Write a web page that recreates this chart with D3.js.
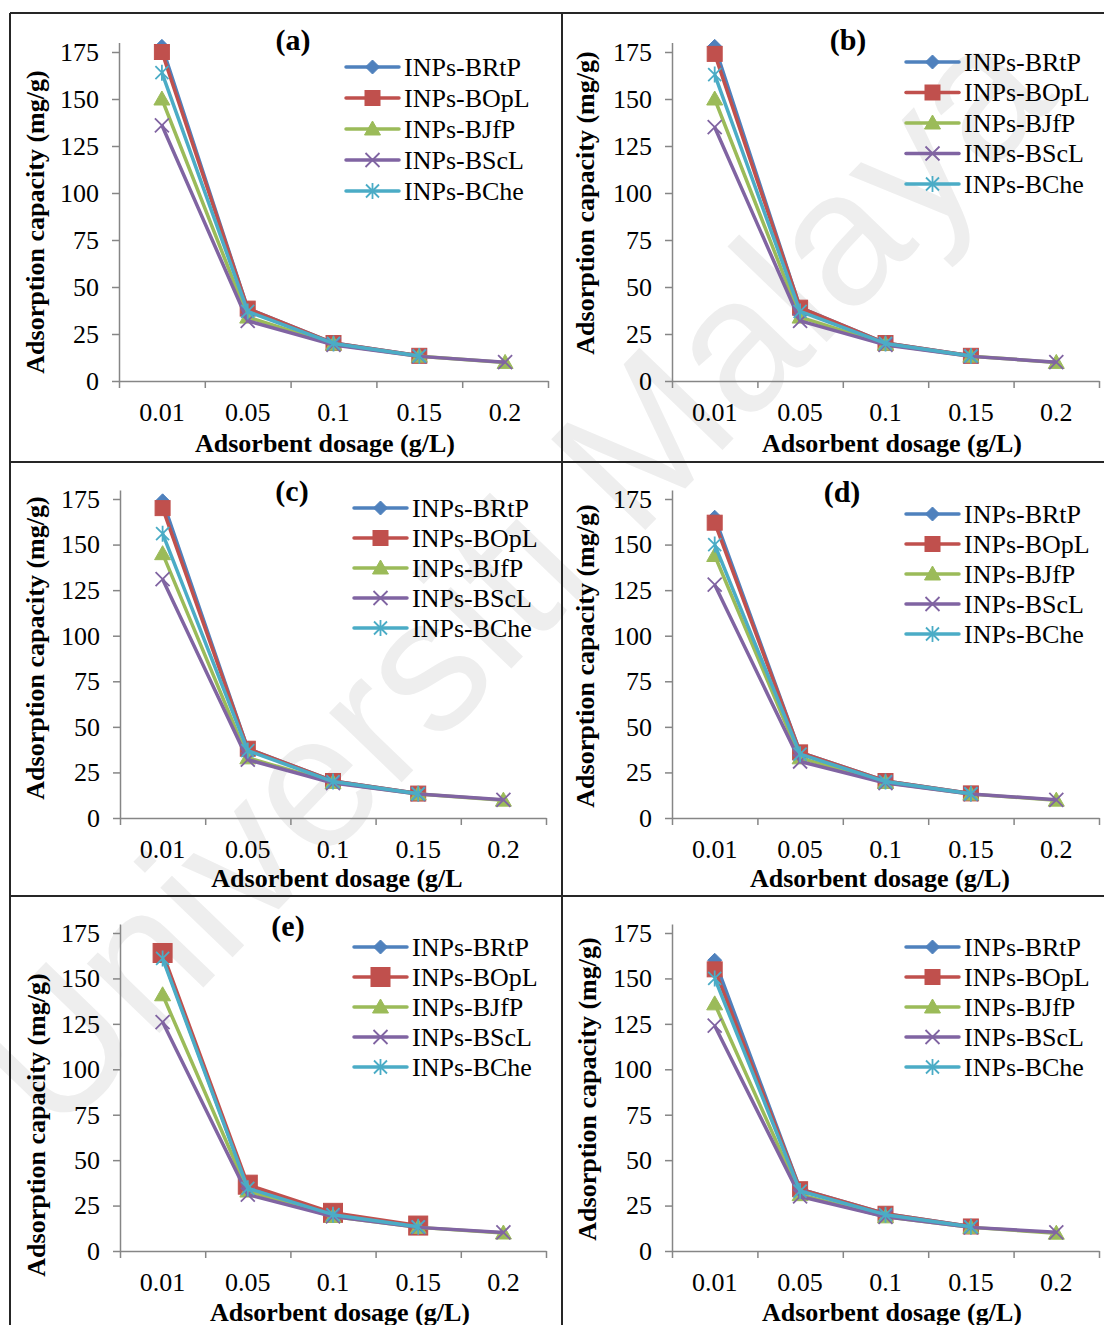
<!DOCTYPE html>
<html>
<head>
<meta charset="utf-8">
<script src="https://cdn.jsdelivr.net/npm/d3@7"></script>
<style>
  body { margin: 0; background: #fff; }
  svg { display: block; }
</style>
</head>
<body>
<div id="chart"></div>
<script>
const categories = ["0.01", "0.05", "0.1", "0.15", "0.2"];
const seriesNames = ["INPs-BRtP", "INPs-BOpL", "INPs-BJfP", "INPs-BScL", "INPs-BChe"];
const yTicks = [0, 25, 50, 75, 100, 125, 150, 175];

// one row per series (BRtP, BOpL, BJfP, BScL, BChe); null = no point plotted
const panelA = [
  [178, 38.5, 20.2, 13.4, null],
  [175, 38.5, 20.2, 13.4, null],
  [150, 34, 19.6, 13.2, 9.9],
  [136, 32, 19.2, 13.1, 10],
  [164, 37, 20, 13.3, null]
];
const panelB = [
  [178, 39, 20.2, 13.4, null],
  [174, 39, 20.2, 13.4, null],
  [150, 34, 19.6, 13.2, 9.9],
  [135, 32, 19.2, 13.1, 10],
  [163, 37, 20, 13.3, null]
];
const panelC = [
  [174, 38, 20.3, 13.4, null],
  [170, 38, 20.3, 13.4, null],
  [145, 33, 19.5, 13.2, 9.8],
  [131, 32, 19.2, 13.1, 10],
  [156, 37, 20, 13.3, null]
];
const panelD = [
  [165, 36, 20.3, 13.5, null],
  [162, 36, 20.3, 13.5, null],
  [144, 33, 19.5, 13.1, 9.8],
  [128, 31, 19.2, 13.1, 10],
  [150, 35, 20, 13.3, null]
];
const panelE = [
  [162, 35, 20, 13.3, null],
  [164, 36.5, 21, 14, null],
  [141, 33, 19, 13, 9.9],
  [126, 31, 19, 13, 10.2],
  [161, 34.5, 20, 13.3, null]
];
const panelF = [
  [160, 34, 20.5, 13.5, null],
  [155, 34, 20.5, 13.5, null],
  [136, 31, 18.8, 13, 9.8],
  [124, 30, 18.8, 13, 10.3],
  [150, 33, 20, 13.3, null]
];

const colors = ["#4F81BD", "#C0504D", "#9BBB59", "#8064A2", "#4BACC6"];
const markers = ["diamond", "square", "triangle", "cross", "star"];

const W = 1104, H = 1325;
const serif = "'Liberation Serif', 'Times New Roman', serif";

const panels = [
  {data: panelA, x0: 119, x1: 548, y0: 381, y175: 52, label: "(a)", lx: 293, ly: 39,
   legX: 346, legY: 67, legDy: 31, xt: "Adsorbent dosage (g/L)", xtx: 325, xty: 452, ytx: 44, yty: 222, sq: 15},
  {data: panelB, x0: 672, x1: 1099, y0: 381, y175: 52, label: "(b)", lx: 848, ly: 39,
   legX: 906, legY: 62, legDy: 30.5, xt: "Adsorbent dosage (g/L)", xtx: 892, xty: 452, ytx: 594, yty: 203, sq: 15},
  {data: panelC, x0: 120, x1: 546, y0: 818, y175: 499, label: "(c)", lx: 292, ly: 490,
   legX: 354, legY: 508, legDy: 30, xt: "Adsorbent dosage (g/L", xtx: 337, xty: 887, ytx: 44, yty: 648, sq: 15},
  {data: panelD, x0: 672, x1: 1099, y0: 818, y175: 499, label: "(d)", lx: 842, ly: 491,
   legX: 906, legY: 514, legDy: 30, xt: "Adsorbent dosage (g/L)", xtx: 880, xty: 887, ytx: 594, yty: 656, sq: 15},
  {data: panelE, x0: 120, x1: 546, y0: 1251, y175: 933, label: "(e)", lx: 288, ly: 925,
   legX: 354, legY: 947, legDy: 30, xt: "Adsorbent dosage (g/L)", xtx: 340, xty: 1321, ytx: 45, yty: 1125, sq: 19},
  {data: panelF, x0: 672, x1: 1099, y0: 1251, y175: 933, label: null, lx: 0, ly: 0,
   legX: 906, legY: 947, legDy: 30, xt: "Adsorbent dosage (g/L)", xtx: 892, xty: 1321, ytx: 596, yty: 1089, sq: 15}
];

const svg = d3.select("#chart").append("svg")
  .attr("width", W)
  .attr("height", H)
  .style("font-family", serif);

svg.append("rect").attr("width", W).attr("height", H).attr("fill", "#fff");

// watermark
svg.append("text")
  .attr("transform", "translate(510,575) rotate(-46)")
  .attr("text-anchor", "middle")
  .attr("dominant-baseline", "central")
  .style("font-family", "'Liberation Sans', Arial, sans-serif")
  .style("font-size", "190px")
  .attr("fill", "#eeeeee")
  .text("Universiti Malaya");

function drawMarker(g, type, color, sq) {
  if (type === "diamond") {
    g.append("path").attr("d", "M0,-7L7,0L0,7L-7,0Z").attr("fill", color).attr("stroke", color).attr("stroke-width", 1);
  } else if (type === "square") {
    g.append("rect").attr("x", -sq / 2).attr("y", -sq / 2).attr("width", sq).attr("height", sq)
      .attr("fill", color).attr("stroke", color).attr("stroke-width", 1);
  } else if (type === "triangle") {
    g.append("path").attr("d", "M0,-8L8,6L-8,6Z").attr("fill", color).attr("stroke", color).attr("stroke-width", 1);
  } else if (type === "cross") {
    g.append("path").attr("d", "M-7,-7L7,7M-7,7L7,-7").attr("stroke", color).attr("stroke-width", 1.8).attr("fill", "none");
  } else {
    g.append("path").attr("d", "M-6.5,-6.5L6.5,6.5M-6.5,6.5L6.5,-6.5M0,-8L0,8").attr("stroke", color).attr("stroke-width", 1.8).attr("fill", "none");
  }
}

panels.forEach(p => {
  const g = svg.append("g");
  const yTop = p.y0 - (p.y0 - p.y175) * 180 / 175;
  const y = d3.scaleLinear().domain([0, 180]).range([p.y0, yTop]);
  const x = d3.scaleBand().domain(categories).range([p.x0, p.x1]).padding(0);
  const xEdge = d3.scaleLinear().domain([0, categories.length]).range([p.x0, p.x1]);

  // y axis
  const ya = g.append("g")
    .attr("transform", `translate(${p.x0},0)`)
    .call(d3.axisLeft(y).tickValues(yTicks).tickSize(7).tickSizeOuter(0).tickPadding(13));
  ya.select(".domain").attr("stroke", "#868686").attr("stroke-width", 1.5);
  ya.selectAll(".tick line").attr("stroke", "#868686").attr("stroke-width", 1.5);
  ya.selectAll(".tick text").attr("fill", "#000").style("font-size", "26px").style("font-family", serif);

  // x axis: boundary ticks
  const xe = g.append("g")
    .attr("transform", `translate(0,${p.y0})`)
    .call(d3.axisBottom(xEdge).tickValues(d3.range(categories.length + 1)).tickFormat("").tickSize(7).tickSizeOuter(0));
  xe.select(".domain").attr("stroke", "#868686").attr("stroke-width", 1.5);
  xe.selectAll(".tick line").attr("stroke", "#868686").attr("stroke-width", 1.5);

  // x axis: category labels
  const xa = g.append("g")
    .attr("transform", `translate(0,${p.y0})`)
    .call(d3.axisBottom(x).tickSize(0).tickPadding(22));
  xa.select(".domain").remove();
  xa.selectAll(".tick text").attr("fill", "#000").style("font-size", "26px").style("font-family", serif);

  // series lines
  const line = d3.line()
    .defined(d => d.v != null)
    .x(d => x(d.c) + x.bandwidth() / 2)
    .y(d => y(d.v));

  p.data.forEach((vals, i) => {
    const pts = categories.map((c, j) => ({c, v: vals[j]}));
    g.append("path")
      .datum(pts)
      .attr("d", line)
      .attr("fill", "none")
      .attr("stroke", colors[i])
      .attr("stroke-width", 3.5)
      .attr("stroke-linejoin", "round");
    pts.filter(d => d.v != null).forEach(d => {
      const m = g.append("g").attr("transform", `translate(${x(d.c) + x.bandwidth() / 2},${y(d.v)})`);
      drawMarker(m, markers[i], colors[i], p.sq);
    });
  });

  // legend
  seriesNames.forEach((name, i) => {
    const ly = p.legY + i * p.legDy;
    g.append("line")
      .attr("x1", p.legX).attr("x2", p.legX + 53)
      .attr("y1", ly).attr("y2", ly)
      .attr("stroke", colors[i]).attr("stroke-width", 3.5).attr("stroke-linecap", "round");
    const m = g.append("g").attr("transform", `translate(${p.legX + 26.5},${ly})`);
    drawMarker(m, markers[i], colors[i], p.sq);
    g.append("text")
      .attr("x", p.legX + 58).attr("y", ly)
      .attr("dominant-baseline", "central")
      .style("font-size", "26px")
      .text(name);
  });

  // axis titles
  g.append("text")
    .attr("x", p.xtx).attr("y", p.xty)
    .attr("text-anchor", "middle")
    .style("font-size", "26px").style("font-weight", "bold")
    .text(p.xt);
  g.append("text")
    .attr("transform", `translate(${p.ytx},${p.yty}) rotate(-90)`)
    .attr("text-anchor", "middle")
    .style("font-size", "26px").style("font-weight", "bold")
    .text("Adsorption capacity (mg/g)");

  if (p.label) {
    g.append("text")
      .attr("x", p.lx).attr("y", p.ly)
      .attr("text-anchor", "middle")
      .attr("dominant-baseline", "central")
      .style("font-size", "30px").style("font-weight", "bold")
      .text(p.label);
  }
});

// panel frame
const frame = svg.append("g").attr("stroke", "#262626").attr("stroke-width", 2);
frame.append("line").attr("x1", 10).attr("x2", W).attr("y1", 13).attr("y2", 13);
frame.append("line").attr("x1", 10).attr("x2", W).attr("y1", 462).attr("y2", 462);
frame.append("line").attr("x1", 10).attr("x2", W).attr("y1", 896).attr("y2", 896);
frame.append("line").attr("x1", 10).attr("x2", 10).attr("y1", 13).attr("y2", H);
frame.append("line").attr("x1", 562).attr("x2", 562).attr("y1", 13).attr("y2", H);
</script>
</body>
</html>
